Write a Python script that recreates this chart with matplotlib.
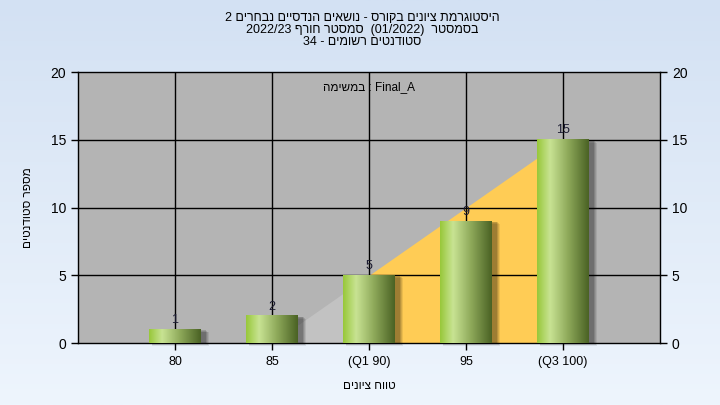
import re
import numpy as np
import matplotlib
matplotlib.use('Agg')
import matplotlib.pyplot as plt
from matplotlib.colors import LinearSegmentedColormap
from matplotlib.patches import Rectangle

plt.rcParams['font.family'] = ['Liberation Sans', 'DejaVu Sans']

# data
categories = ["80", "85", "(Q1 90)", "95", "(Q3 100)"]
counts = [1, 2, 5, 9, 15]
# range line behind the bars (min -> Q1 -> Q3)
area_x = [1, 2, 4]
area_y = [0, 5, 15]

title_lines = [
    "היסטוגרמת ציונים בקורס - נושאים הנדסיים נבחרים 2",
    "בסמסטר  (01/2022)  סמסטר חורף 2022/23",
    "סטודנטים רשומים - 34",
]
task_label = "במשימה"
task_name = "Final_A"
x_label = "טווח ציונים"
y_label = "מספר סטודנטים"


def visual(s):
    # crude bidi: reverse the line, keep latin/digit runs left-to-right
    r = s[::-1]
    r = re.sub(r'[A-Za-z0-9_/.]+', lambda m: m.group(0)[::-1], r)
    return r.translate(str.maketrans("()", ")("))


fig = plt.figure(figsize=(7.2, 4.05), dpi=100)

# background gradient
bg = fig.add_axes([0, 0, 1, 1], zorder=-10)
bg_cmap = LinearSegmentedColormap.from_list("bg", ["#D3E1F3", "#EEF5FD"])
bg.imshow(np.linspace(0, 1, 256).reshape(-1, 1), aspect='auto', cmap=bg_cmap,
          extent=[0, 1, 0, 1])
bg.axis('off')

ax = fig.add_axes([0.1083, 0.153, 0.8083, 0.669])
ax.set_facecolor('#B4B4B4')
x = np.arange(len(categories))
ax.set_xlim(-1, 5)
ax.set_ylim(0, 20)

# range areas
xs = np.linspace(area_x[0], area_x[1], 20)
ax.fill_between(xs, 0, np.interp(xs, area_x, area_y), color='#C2C2C2', lw=0, zorder=1)
xs = np.linspace(area_x[1], area_x[2], 40)
ax.fill_between(xs, 0, np.interp(xs, area_x, area_y), color='#FFCC55', lw=0, zorder=1)

# grid
for xi in x:
    ax.axvline(xi, color='black', lw=1, zorder=2)
for yi in [5, 10, 15]:
    ax.axhline(yi, color='black', lw=1, zorder=2)

bar_cmap = LinearSegmentedColormap.from_list(
    "cyl", [(0, "#98C83A"), (0.25, "#C8E393"), (0.6, "#8EA95A"), (1, "#4A6224")])
grad = np.linspace(0, 1, 128).reshape(1, -1)
w = 0.53
for xi, v in zip(x, counts):
    # soft shadow
    for k, a in enumerate([0.08, 0.1, 0.12, 0.15]):
        off = 0.055 - k * 0.01
        ax.add_patch(Rectangle((xi - w / 2 + 0.03, -0.2 + k * 0.05), w + off, v,
                               color='black', alpha=a, lw=0, zorder=3, clip_on=False))
    ax.imshow(grad, aspect='auto', cmap=bar_cmap, zorder=4,
              extent=[xi - w / 2, xi + w / 2, 0, v])
    ax.text(xi, v + 0.25, str(v), ha='center', va='bottom', fontsize=9,
            color='#1A1A30', zorder=5)

ax.set_xlim(-1, 5)
ax.set_ylim(0, 20)

ax.text(2.0, 18.9, visual(task_label) + " : " + task_name, ha='center', va='center',
        fontsize=8.5, color='black', zorder=5)

ax.set_xticks(x)
ax.set_xticklabels(categories, fontsize=9)
ax.set_yticks([0, 5, 10, 15, 20])
ax.tick_params(axis='y', labelsize=10, length=5, right=True, labelright=True,
               direction='out', width=1)
ax.tick_params(axis='x', length=5, direction='out', width=1, pad=4)
for s in ax.spines.values():
    s.set_color('black')
    s.set_linewidth(1)

ax.set_xlabel(visual(x_label), fontsize=8.5, labelpad=9)
ax.set_ylabel(visual(y_label), fontsize=8.5, labelpad=12)

for i, line in enumerate(title_lines):
    fig.text(0.503, 1 - (18 + 12 * i) / 405, visual(line), ha='center', va='center',
             fontsize=9)

fig.savefig('out.png', dpi=100)
